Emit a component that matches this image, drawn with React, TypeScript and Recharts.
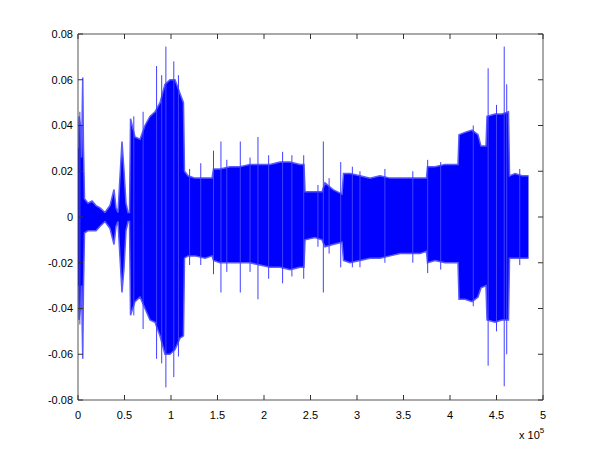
import React from 'react';
import { ComposedChart, Area, Line, XAxis, YAxis } from 'recharts';

// envelope of the waveform, x in units of 1e5 samples
const envX = [
  0.0, 0.011, 0.027, 0.038, 0.051, 0.059, 0.07, 0.108, 0.151, 0.194, 0.237, 0.29, 0.344, 0.387,
  0.409, 0.43, 0.452, 0.473, 0.495, 0.516, 0.538, 0.554, 0.565, 0.613, 0.667, 0.72, 0.774, 0.828,
  0.882, 0.935, 0.989, 1.043, 1.097, 1.134, 1.145, 1.183, 1.258, 1.366, 1.441, 1.457, 1.527,
  1.634, 1.742, 1.849, 1.957, 2.065, 2.172, 2.28, 2.387, 2.43, 2.441, 2.548, 2.624, 2.656, 2.742,
  2.839, 2.855, 2.925, 3.032, 3.14, 3.247, 3.355, 3.462, 3.57, 3.677, 3.747, 3.758, 3.839, 3.946,
  4.054, 4.086, 4.097, 4.161, 4.237, 4.301, 4.333, 4.387, 4.398, 4.484, 4.559, 4.629, 4.64, 4.699,
  4.774, 4.844,
];
const envHi = [
  0.03, 0.044, 0.04, 0.026, 0.061, 0.03, 0.008, 0.006, 0.007, 0.005, 0.004, 0.002, 0.005, 0.012,
  0.004, 0.002, 0.018, 0.033, 0.02, 0.006, 0.002, 0.002, 0.043, 0.035, 0.034, 0.04, 0.044, 0.046,
  0.05, 0.058, 0.06, 0.06, 0.054, 0.05, 0.02, 0.018, 0.017, 0.017, 0.017, 0.021, 0.021,
  0.022, 0.022, 0.023, 0.023, 0.023, 0.024, 0.024, 0.023, 0.023, 0.011, 0.011, 0.011, 0.015, 0.012,
  0.01, 0.019, 0.019, 0.018, 0.017, 0.018, 0.017, 0.017, 0.017, 0.017, 0.017, 0.022, 0.022, 0.023,
  0.023, 0.023, 0.036, 0.037, 0.038, 0.036, 0.031, 0.031, 0.044, 0.045, 0.045, 0.046, 0.018, 0.019,
  0.018, 0.018,
];
const envLo = [
  -0.03, -0.045, -0.04, -0.03, -0.062, -0.03, -0.007, -0.006, -0.006, -0.006, -0.004, -0.002, -0.005, -0.012,
  -0.004, -0.002, -0.018, -0.033, -0.022, -0.006, -0.002, -0.002, -0.043, -0.037, -0.035, -0.04, -0.045, -0.046,
  -0.052, -0.06, -0.06, -0.058, -0.053, -0.052, -0.018, -0.017, -0.017, -0.018, -0.017, -0.019, -0.02,
  -0.02, -0.02, -0.02, -0.021, -0.022, -0.022, -0.023, -0.022, -0.022, -0.01, -0.009, -0.01, -0.013, -0.012,
  -0.011, -0.019, -0.02, -0.019, -0.018, -0.018, -0.017, -0.016, -0.016, -0.016, -0.015, -0.02, -0.019, -0.02,
  -0.02, -0.02, -0.036, -0.036, -0.037, -0.035, -0.031, -0.03, -0.045, -0.046, -0.045, -0.045, -0.018, -0.018,
  -0.018, -0.018,
];

// isolated peaks that stick out of the envelope
const spikeX = [
  0.02, 0.6, 0.7, 0.845, 0.9, 0.945, 1.03, 1.08, 1.2, 1.32, 1.457, 1.537, 1.6, 1.745, 1.85, 1.935, 2.05,
  2.2, 2.3, 2.427, 2.58, 2.638, 2.7, 2.825, 2.95, 3.032, 3.3, 3.6, 3.76, 3.9, 4.25, 4.41, 4.5, 4.583, 4.61, 4.75,
];
const spikeHi = [
  0.046, 0.044, 0.046, 0.066, 0.062, 0.0745, 0.068, 0.062, 0.021, 0.0235, 0.029, 0.033, 0.025, 0.033, 0.026, 0.035, 0.027,
  0.0285, 0.027, 0.027, 0.014, 0.033, 0.017, 0.024, 0.022, 0.02, 0.021, 0.02, 0.025, 0.024, 0.04, 0.065, 0.049, 0.0745, 0.058, 0.021,
];
const spikeLo = [
  -0.047, -0.043, -0.049, -0.062, -0.064, -0.0745, -0.07, -0.061, -0.021, -0.021, -0.025, -0.033, -0.024, -0.033, -0.024, -0.036, -0.027,
  -0.029, -0.026, -0.027, -0.013, -0.033, -0.016, -0.022, -0.022, -0.022, -0.02, -0.02, -0.0245, -0.023, -0.039, -0.065, -0.05, -0.074, -0.06, -0.021,
];

const xTicks = [0, 0.5, 1, 1.5, 2, 2.5, 3, 3.5, 4, 4.5, 5];
const yTicks = [-0.08, -0.06, -0.04, -0.02, 0, 0.02, 0.04, 0.06, 0.08];

const data = envX.map((x, i) => ({ x, band: [envLo[i], envHi[i]] }));
const spikeData = spikeX.flatMap((x, i) => [
  { x, v: spikeHi[i] },
  { x, v: spikeLo[i] },
  { x, v: null },
]);

const FONT = 'Liberation Sans, Arial, sans-serif';
const axisColor = '#555';
const tickColor = '#333';
const TICK = 5;

// MATLAB style: ticks point into the plot box
const BottomTick = (p: any) => {
  const m = 11;
  return (
    <g>
      <line x1={p.x} x2={p.x} y1={p.y - m} y2={p.y - m - TICK} stroke={tickColor} />
      <text x={p.x} y={p.y} dy="0.71em" textAnchor="middle" fontSize={11} fontFamily={FONT} fill="#000">
        {String(p.payload.value)}
      </text>
    </g>
  );
};

const LeftTick = (p: any) => {
  const m = 5;
  const v = p.payload.value;
  return (
    <g>
      <line x1={p.x + m} x2={p.x + m + TICK} y1={p.y} y2={p.y} stroke={tickColor} />
      <text x={p.x} y={p.y} dy="0.355em" textAnchor="end" fontSize={11} fontFamily={FONT} fill="#000">
        {v === 0 ? '0' : v.toFixed(2)}
      </text>
    </g>
  );
};

const TopTick = (p: any) => <line x1={p.x} x2={p.x} y1={p.y} y2={p.y + TICK} stroke={tickColor} />;
const RightTick = (p: any) => <line x1={p.x} x2={p.x - TICK} y1={p.y} y2={p.y} stroke={tickColor} />;

export default function App() {
  return (
    <div style={{ position: 'absolute', left: 0, top: 0, width: 600, height: 450, background: '#fff' }}>
      <ComposedChart width={600} height={450} data={data} margin={{ top: 33, right: 56, bottom: 20, left: 0 }}>
        <Area
          xAxisId="b"
          yAxisId="l"
          type="linear"
          dataKey="band"
          stroke="#5a5aff"
          strokeWidth={1.5}
          fill="#0000ff"
          fillOpacity={1}
          isAnimationActive={false}
        />
        <Line
          xAxisId="b"
          yAxisId="l"
          data={spikeData}
          dataKey="v"
          type="linear"
          stroke="#4040ff"
          strokeWidth={1}
          dot={false}
          connectNulls={false}
          isAnimationActive={false}
        />
        <XAxis
          xAxisId="b"
          dataKey="x"
          type="number"
          domain={[0, 5]}
          ticks={xTicks}
          interval={0}
          allowDataOverflow
          height={30}
          tickSize={0}
          tickMargin={11}
          tickLine={false}
          tick={BottomTick}
          stroke={axisColor}
        />
        <XAxis
          xAxisId="t"
          dataKey="x"
          orientation="top"
          type="number"
          domain={[0, 5]}
          ticks={xTicks}
          interval={0}
          allowDataOverflow
          height={1}
          tickSize={0}
          tickMargin={0}
          tickLine={false}
          tick={TopTick}
          stroke={axisColor}
        />
        <YAxis
          yAxisId="l"
          type="number"
          domain={[-0.08, 0.08]}
          ticks={yTicks}
          interval={0}
          allowDataOverflow
          width={78}
          tickSize={0}
          tickMargin={5}
          tickLine={false}
          tick={LeftTick}
          stroke={axisColor}
        />
        <YAxis
          yAxisId="r"
          orientation="right"
          type="number"
          domain={[-0.08, 0.08]}
          ticks={yTicks}
          interval={0}
          allowDataOverflow
          width={1}
          tickSize={0}
          tickMargin={0}
          tickLine={false}
          tick={RightTick}
          stroke={axisColor}
        />
      </ComposedChart>
      <div style={{ position: 'absolute', left: 519, top: 425, fontFamily: FONT, fontSize: 11, color: '#000', lineHeight: '13px' }}>
        x 10<sup style={{ fontSize: 8, position: 'relative', top: -1 }}>5</sup>
      </div>
    </div>
  );
}
